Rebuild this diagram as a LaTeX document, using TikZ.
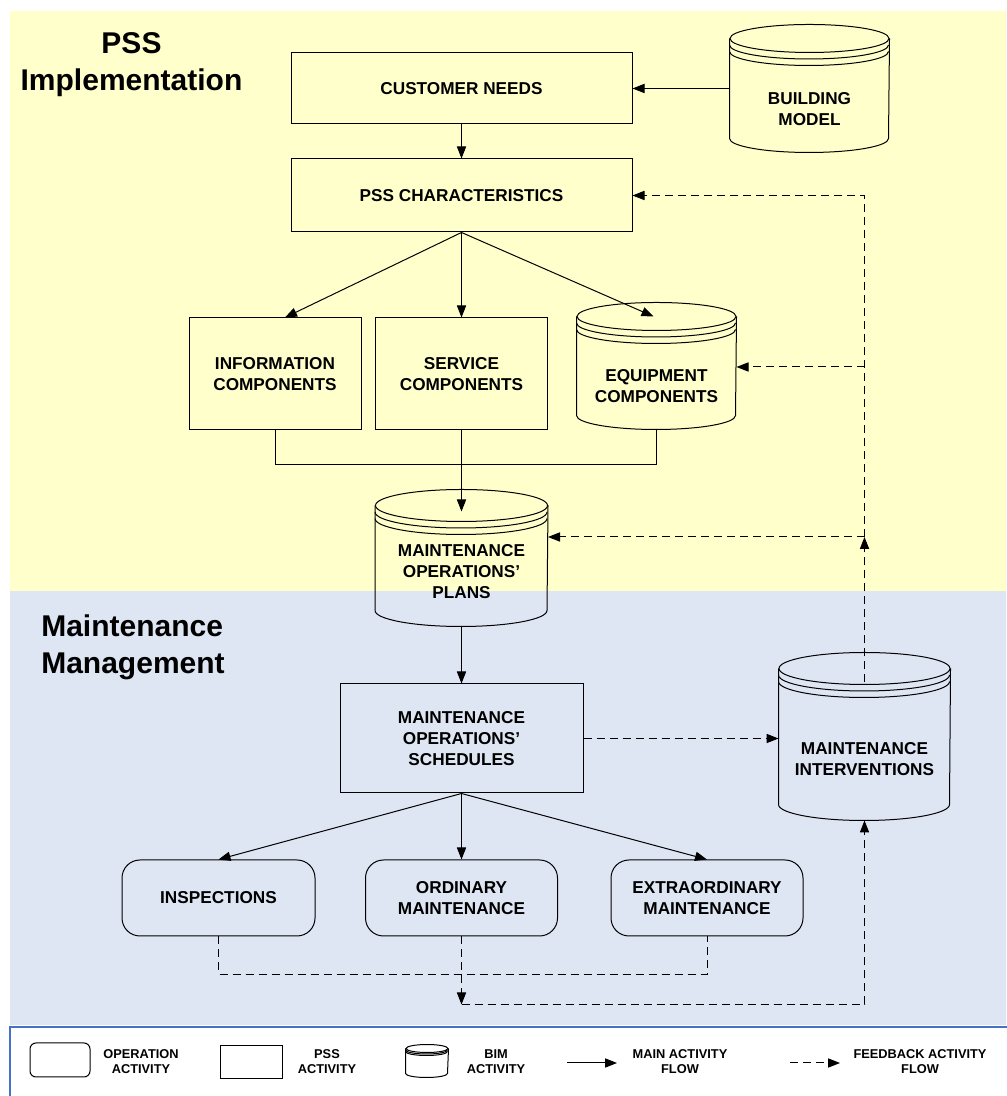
\documentclass[tikz,border=0pt]{standalone}
\usepackage{fontspec}
\setmainfont{Liberation Sans}
\usetikzlibrary{arrows.meta,calc}
\definecolor{pssyellow}{HTML}{FFFFCC}
\definecolor{mmblue}{HTML}{DFE6F3}
\definecolor{legblue}{HTML}{4472C4}
\newcommand{\boxfont}{\fontsize{8.6}{10.5}\selectfont\bfseries}
\newcommand{\legfont}{\fontsize{6.4}{7.5}\selectfont\bfseries}
\newcommand{\areafont}{\fontsize{15}{18.5}\selectfont\bfseries}
\tikzset{
  >={Triangle[length=6pt,width=4.6pt]},
  pssbox/.style={draw, rectangle, inner sep=0pt, align=center, font=\boxfont},
  opbox/.style={pssbox, rounded corners=9pt},
  bimbody/.style={inner sep=0pt, align=center, font=\boxfont},
  legtext/.style={inner sep=0pt, align=center, font=\legfont},
  feedback/.style={dash pattern=on 4pt off 2.5pt},
}

\begin{document}
\begin{tikzpicture}[x=0.5pt, y=0.5pt, line width=0.5pt]
      \useasboundingbox (0,0) rectangle (1006,1096);
      \fill[pssyellow] (10,505) rectangle (1006,1085);
      \fill[mmblue] (10,71) rectangle (1006,505);
      \draw[legblue, line width=1pt, fill=white] (10,-10) rectangle (1020,69);

      \node[font=\areafont, align=center] (t1) at (131.5,1031.5) {PSS\\Implementation};
      \node[font=\areafont, align=left] (t2) at (133,449) {Maintenance\\Management};

      \node[pssbox, minimum width=170.5pt, minimum height=35.5pt] (cn) at (461.5,1007.5) {CUSTOMER NEEDS};
      \node[pssbox, minimum width=170.5pt, minimum height=36.5pt] (pc) at (461.5,900.5) {PSS CHARACTERISTICS};
      \node[pssbox, minimum width=86pt, minimum height=56pt] (ic) at (275,722) {INFORMATION\\COMPONENTS};
      \node[pssbox, minimum width=86pt, minimum height=56pt] (sc) at (461.5,722) {SERVICE\\COMPONENTS};
      \node[pssbox, minimum width=121.5pt, minimum height=54.5pt] (ms) at (461.5,357.5) {MAINTENANCE\\OPERATIONS’\\SCHEDULES};

      \node[bimbody, minimum width=79.5pt, minimum height=43pt] (bm) at (809.5,987) {BUILDING\\MODEL};
      \node[bimbody, minimum width=79.5pt, minimum height=42.5pt] (eq) at (656.5,709.5) {EQUIPMENT\\COMPONENTS};
      \node[bimbody, minimum width=86pt, minimum height=45.5pt, text depth=9pt] (pl) at (461.5,515.5) {MAINTENANCE\\OPERATIONS’\\PLANS};
      \node[bimbody, minimum width=85.5pt, minimum height=61pt] (mi) at (864.5,337) {MAINTENANCE\\INTERVENTIONS};

      \node[opbox, minimum width=96.5pt, minimum height=38pt] (ins) at (218.5,198) {INSPECTIONS};
      \node[opbox, minimum width=96pt, minimum height=38pt] (om) at (461.5,198) {ORDINARY\\MAINTENANCE};
      \node[opbox, minimum width=96pt, minimum height=38pt] (em) at (707,198) {EXTRAORDINARY\\MAINTENANCE};

      \node[opbox, rounded corners=3pt, minimum width=30pt, minimum height=17pt] (lop) at (60,36) {};
      \node[legtext] (lt1) at (141,34.5) {OPERATION\\ACTIVITY};
      \node[pssbox, minimum width=31pt, minimum height=16.5pt] (lps) at (251,33.5) {};
      \node[legtext] (lt2) at (327,34.5) {PSS\\ACTIVITY};
      \node[bimbody, minimum width=21pt, minimum height=10.5pt] (lbim) at (427,29.5) {};
      \node[legtext] (lt3) at (496,34.5) {BIM\\ACTIVITY};
      \node[legtext] (lt4) at (680,34.5) {MAIN ACTIVITY\\FLOW};
      \node[legtext] (lt5) at (920,34.5) {FEEDBACK ACTIVITY\\FLOW};

      \foreach \cyl/\hw/\ry/\rg in {bm/79.5/14/6.5, eq/79.5/14/6.5, pl/86/16/6.5, mi/85.5/16/6.5, lbim/21/4/1.5}{
        \draw ($(\cyl.north west)+(0,\ry+2*\rg)$) -- ($(\cyl.south west)+(0,\ry)$)
          arc[start angle=180, end angle=360, x radius=\hw, y radius=\ry]
          -- ($(\cyl.north east)+(0,\ry+2*\rg)$);
        \draw ($(\cyl.north)+(0,\ry+2*\rg)$) ellipse[x radius=\hw, y radius=\ry];
        \draw ($(\cyl.north west)+(0,\ry+\rg)$) arc[start angle=180, end angle=360, x radius=\hw, y radius=\ry];
        \draw ($(\cyl.north west)+(0,\ry)$) arc[start angle=180, end angle=360, x radius=\hw, y radius=\ry];
      }

      \draw[->] (cn.east -| bm.west) -- (cn.east);
      \draw[->] (cn.south) -- (pc.north);
      \draw[->] (pc.south) -- ($(ic.north)+(10,0)$);
      \draw[->] (pc.south) -- (sc.north);
      \draw[->] (pc.south) -- ($(eq.north)+(-3,27)$);
      \draw (ic.south) -- ++(0,-34) -| (eq.south);
      \draw[->] (sc.south) -- ($(pl.north)+(0,23)$);
      \draw[->] (pl.south) -- (ms.north);
      \draw[->] (ms.south) -- (ins.north);
      \draw[->] (ms.south) -- (om.north);
      \draw[->] (ms.south) -- (em.north);

      \draw[feedback,->] (ms.east) -- (ms.east -| mi.west);
      \draw[feedback] (ins.south) -- ++(0,-38) -| (em.south);
      \coordinate (fb) at ($(om.south)+(0,-68)$);
      \draw[feedback,->] (om.south) -- (fb);
      \draw[feedback,->] (fb) -| (mi.south);
      \coordinate (fbp) at (864.5,559);
      \coordinate (fbe) at (864.5,729);
      \draw[feedback,->] ($(mi.north)+(0,15)$) -- (fbp);
      \draw[feedback,->] (fbp) -- (fbp -| pl.east);
      \draw[feedback,->] (fbp) |- (pc.east);
      \draw[feedback,->] (fbe) -- (fbe -| eq.east);

      \coordinate (lma) at (567,33);
      \coordinate (lmb) at (617,33);
      \draw[->] (lma) -- (lmb);
      \coordinate (lfa) at (790,33);
      \coordinate (lfb) at (840,33);
      \draw[feedback,->] (lfa) -- (lfb);
    \end{tikzpicture}
\end{document}
